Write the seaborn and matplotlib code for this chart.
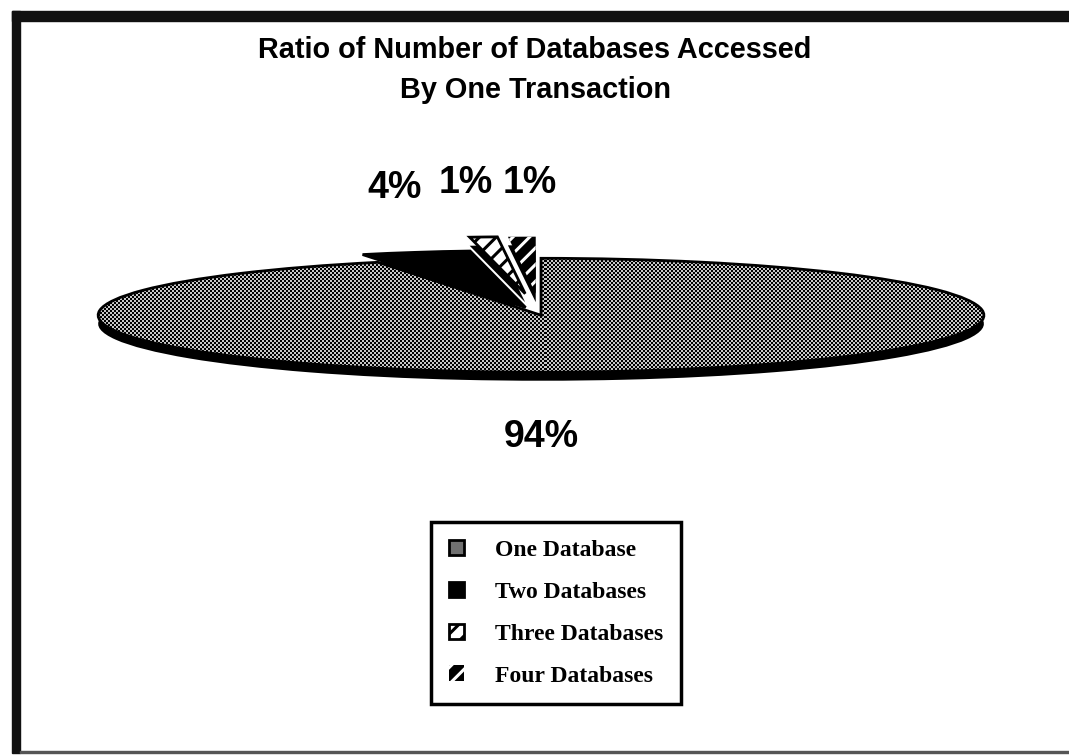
import numpy as np
import matplotlib
matplotlib.use("Agg")
import matplotlib.pyplot as plt
import seaborn as sns
from matplotlib.patches import Rectangle

categories = ["One Database", "Two Databases", "Three Databases", "Four Databases"]
shares = [94, 4, 1, 1]
pct_labels = ["94%", "4%", "1%", "1%"]

sns.set_style("white")
plt.rcParams["font.family"] = ["Liberation Sans", "DejaVu Sans"]
plt.rcParams["text.color"] = "black"
plt.rcParams["hatch.linewidth"] = 2.2

fig = plt.figure(figsize=(10.69, 7.56), dpi=100)
ax = fig.add_axes([0.0711, 0.357, 0.870, 0.452])

explode = [0, 0.14, 0.38, 0.38]

# thickness of the "3d" disc: same pie drawn black, shifted down
rim, _ = ax.pie(shares, startangle=90, counterclock=False, explode=explode,
                center=(0, -0.15), colors=["black"] * 4,
                wedgeprops=dict(linewidth=0))
for w in rim:
    w.set_zorder(0.5)

wedges, texts = ax.pie(shares, labels=pct_labels, startangle=90, counterclock=False,
                       explode=explode, colors=["#707070", "black", "white", "black"],
                       wedgeprops=dict(edgecolor="black", linewidth=2),
                       textprops=dict(fontsize=27, fontweight="bold", color="black"))
wedges[2].set_hatch("//")
wedges[3].set_hatch("//")
wedges[3].set_edgecolor("white")
wedges[3].set_linewidth(0)

label_pos = [(0.0, -2.14), (-0.33, 2.23), (-0.17, 2.32), (-0.025, 2.32)]
for t, p in zip(texts, label_pos):
    t.set_position(p)
    t.set_ha("center")
    t.set_va("center")

leg = fig.legend(wedges, categories, loc="center", bbox_to_anchor=(0.520, 0.189),
                 prop=dict(family="Liberation Serif", weight="bold", size=17),
                 frameon=True, fancybox=False, edgecolor="black", framealpha=1,
                 handlelength=0.65, handleheight=0.65, handletextpad=1.3,
                 labelspacing=0.88, borderpad=0.75, borderaxespad=0)
leg.get_frame().set_linewidth(2.5)

# stipple texture for the big slice
wedges[0].set_facecolor("none")
wedges[0].set_zorder(2)
yy, xx = np.mgrid[0:342, 0:930]
checker = ((yy // 2 + xx // 2) % 2).astype(float) * 0.78
img = ax.imshow(checker, cmap="gray", vmin=0, vmax=1, extent=(-1.05, 1.05, -3, 3),
                aspect="auto", interpolation="nearest", zorder=1.5)
img.set_clip_path(wedges[0])

ax.set_aspect("auto")
ax.set_xlim(-1.05, 1.05)
ax.set_ylim(-3, 3)
ax.axis("off")

fig.text(0.5005, 0.907, "Ratio of Number of Databases Accessed\nBy One Transaction",
         ha="center", va="center", fontsize=20.8, fontweight="bold", linespacing=1.55)

# page frame
fig.add_artist(Rectangle((12 / 1069, 1 - 21 / 756), 1, 10 / 756,
                         transform=fig.transFigure, color="#111111"))
fig.add_artist(Rectangle((12 / 1069, 3 / 756), 8 / 1069, 1 - 14 / 756,
                         transform=fig.transFigure, color="#111111"))
fig.add_artist(Rectangle((20 / 1069, 3 / 756), 1, 2 / 756,
                         transform=fig.transFigure, color="#555555"))

fig.savefig("out.png", dpi=100)
